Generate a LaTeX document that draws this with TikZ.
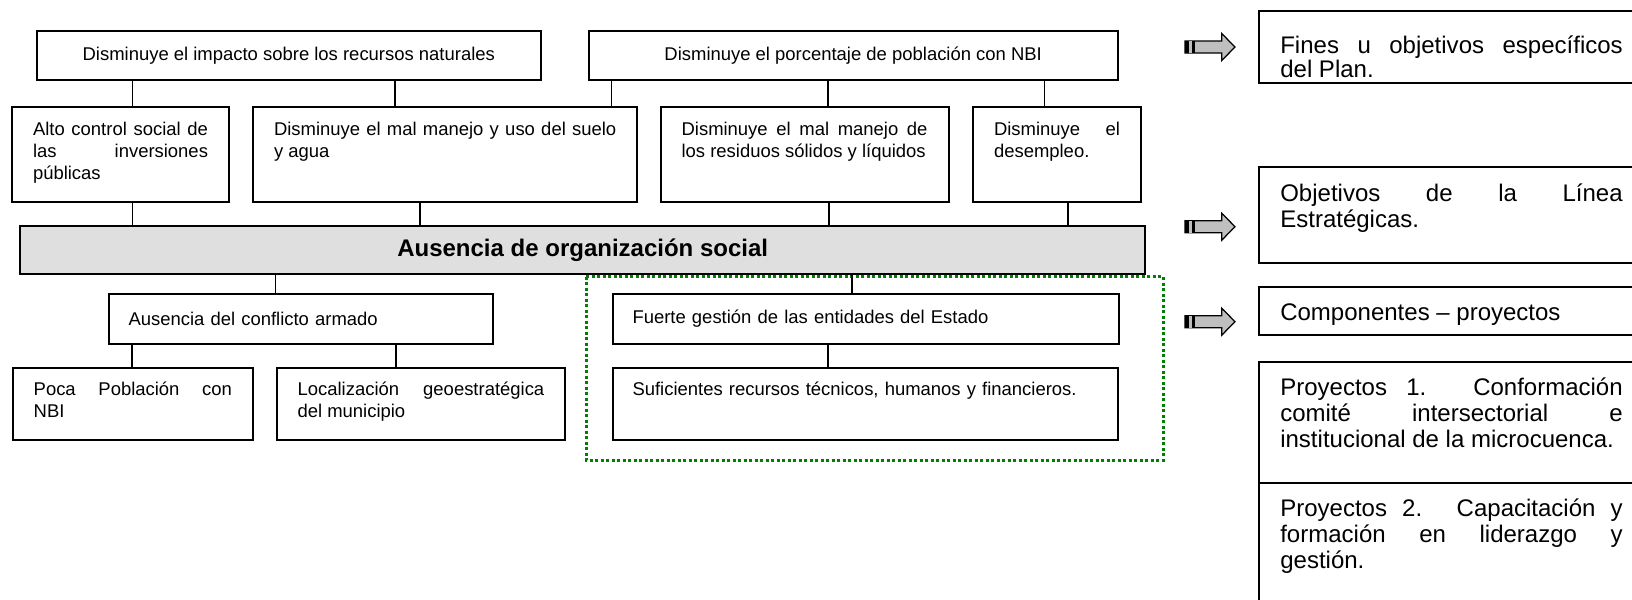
\documentclass[tikz,border=0pt]{standalone}
\usepackage{fontspec}
\setmainfont{Liberation Sans}
\usepackage{tikz}

\newcommand{\letrachica}{\fontsize{10.5}{12.35}\selectfont}
\newcommand{\letragrande}{\fontsize{13.66}{14.8}\selectfont}

\tikzset{
    caja/.style={draw, line width=0.4mm, inner ysep=0pt, anchor=north west, font=\letrachica},
    cajatexto/.style={caja, align=justify, inner xsep=4.2mm},
    cajader/.style={caja, align=justify, inner xsep=4.36mm, text width=68.48mm, font=\letragrande},
    linea/.style={line width=0.35mm},
    marco/.style={green!50!black, line width=0.6mm, dash pattern=on 0.6mm off 0.5mm},
    flecha/.style={draw, fill=gray!50, line width=0.25mm, line join=miter}
}

\begin{document}
\begin{tikzpicture}[x=0.2mm, y=-0.2mm]
    \useasboundingbox (0,0) rectangle (1632,599);
    \clip (0,0) rectangle (1632,599);
    % Dotted frame round the state boxes
    \draw[marco] (586,276.7) rectangle (1163.4,460);
    % Top row
    \node[caja, minimum width=100.88mm, minimum height=9.74mm] (imp) at (35.6,30) {Disminuye el impacto sobre los recursos naturales};
    \node[caja, minimum width=105.8mm, minimum height=9.74mm] (nbi) at (587.7,30) {Disminuye el porcentaje de población con NBI};
    % Second row
    \node[cajatexto, text width=35mm, text height=5.8mm, text depth=13.32mm] (alto) at (11,105.7) {Alto control social de\linebreak las inversiones\linebreak públicas};
    \node[cajatexto, text width=68.46mm, text height=5.8mm, text depth=13.32mm] (suelo) at (252,105.7) {Disminuye el mal manejo y uso del suelo\linebreak y agua};
    \node[cajatexto, text width=49.18mm, text height=5.8mm, text depth=13.32mm] (resid) at (659.6,105.7) {Disminuye el mal manejo de\linebreak los residuos sólidos y líquidos};
    \node[cajatexto, text width=25.2mm, text height=5.8mm, text depth=13.32mm] (desemp) at (972,105.7) {Disminuye el\linebreak desempleo.};
    % Central problem
    \node[caja, fill=gray!25, minimum width=225.08mm, minimum height=9.6mm, font=\fontsize{13.66}{16}\selectfont\bfseries] (barra) at (19,225) {Ausencia de organización social};
    % Lower rows
    \node[caja, text width=68.96mm, align=left, inner xsep=4mm, minimum height=9.9mm] (conf) at (107.5,293) {Ausencia del conflicto armado};
    \node[caja, text width=93.26mm, align=left, inner xsep=4mm, minimum height=9.9mm] (fuerte) at (611.5,293) {Fuerte gestión de las entidades del Estado};
    \node[cajatexto, text width=39.66mm, text height=5.6mm, text depth=8.86mm] (poca) at (11.7,366.7) {Poca Población con\linebreak NBI};
    \node[cajatexto, text width=49.34mm, text height=5.6mm, text depth=8.86mm] (loc) at (275.6,366.7) {Localización geoestratégica\linebreak del municipio};
    \node[cajatexto, align=left, text width=93.1mm, inner xsep=4mm, text height=5.6mm, text depth=8.86mm] (sufi) at (611.5,366.7) {Suficientes recursos técnicos, humanos y financieros.};
    % Lines between the boxes
    \draw[linea] (132.5,0 |- imp.south) -- (132.5,0 |- alto.north);
    \draw[linea] (395,0 |- imp.south) -- (395,0 |- suelo.north);
    \draw[linea] (611.4,0 |- nbi.south) -- (611.4,0 |- suelo.north);
    \draw[linea] (828,0 |- nbi.south) -- (828,0 |- resid.north);
    \draw[linea] (1044.4,0 |- nbi.south) -- (1044.4,0 |- desemp.north);
    \draw[linea] (132.5,0 |- alto.south) -- (132.5,0 |- barra.north);
    \draw[linea] (420,0 |- suelo.south) -- (420,0 |- barra.north);
    \draw[linea] (829,0 |- resid.south) -- (829,0 |- barra.north);
    \draw[linea] (1068,0 |- desemp.south) -- (1068,0 |- barra.north);
    \draw[linea] (275.6,0 |- barra.south) -- (275.6,0 |- conf.north);
    \draw[linea] (852,0 |- barra.south) -- (852,0 |- fuerte.north);
    \draw[linea] (132,0 |- conf.south) -- (132,0 |- poca.north);
    \draw[linea] (396,0 |- conf.south) -- (396,0 |- loc.north);
    \draw[linea] (828,0 |- fuerte.south) -- (828,0 |- sufi.north);
    % Legend arrows
    \foreach \n/\y in {1/47, 2/226.7, 3/321.7} {
        \coordinate (fl\n) at (1185,\y);
        \draw[flecha] (fl\n) ++(0,-6) -- ++(36.7,0) -- ++(0,-7.5) -- ++(13.3,13.5)
            -- ++(-13.3,13.5) -- ++(0,-7.5) -- ++(-36.7,0) -- cycle;
        \fill (fl\n) ++(0,-6) rectangle ++(10,12);
        \fill[gray!50] (fl\n) ++(4.3,-6) rectangle ++(2.7,12);
    }
    % Legend boxes
    \node[cajader, font=\fontsize{13.66}{13.4}\selectfont, text height=8.5mm, text depth=5.96mm] (fin) at (1257.5,10) {Fines u objetivos específicos\linebreak del Plan.};
    \node[cajader, text height=7mm, text depth=12.32mm] (obj) at (1257.5,165.7) {Objetivos de la Línea\linebreak Estratégicas.};
    \node[cajader, text height=6.6mm, text depth=3mm] (comp) at (1257.5,286) {Componentes – proyectos};
    \node[cajader, text height=6.8mm, text depth=17.4mm] (proy1) at (1257.5,360.7) {Proyectos 1. Conformación\linebreak comité intersectorial e\linebreak institucional de la microcuenca.};
    \node[cajader, text height=6.8mm, text depth=20.86mm] (proy2) at (1257.5,481.7) {Proyectos 2. Capacitación y\linebreak formación en liderazgo y\linebreak gestión.};
\end{tikzpicture}
\end{document}
